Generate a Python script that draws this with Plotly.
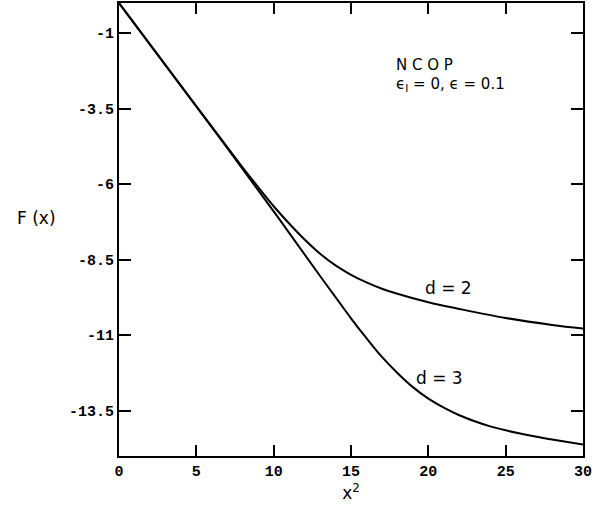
import plotly.graph_objects as go

# x^2 values and F(x) for the two dimensions
x_d2 = [0, 5, 8, 9, 10, 11, 12, 13, 14, 15, 16, 17, 18, 20, 22, 25, 28, 30]
f_d2 = [0, -3.42, -5.45, -6.1, -6.73, -7.3, -7.83, -8.3, -8.69, -9.0, -9.25, -9.46, -9.63, -9.91, -10.13, -10.43, -10.66, -10.78]

x_d3 = [0, 5, 10, 13, 14, 15, 16, 17, 18, 19, 20, 21, 22, 23, 24, 25, 26, 27, 28, 30]
f_d3 = [0, -3.42, -6.9, -9.04, -9.74, -10.44, -11.1, -11.72, -12.25, -12.72, -13.1, -13.4, -13.65, -13.85, -14.02, -14.15, -14.26, -14.36, -14.45, -14.62]

x_ticks = [0, 5, 10, 15, 20, 25, 30]
y_ticks = [-1, -3.5, -6, -8.5, -11, -13.5]
y_tick_text = ["-1", "-3.5", "-6", "-8.5", "-11", "-13.5"]

fig = go.Figure()
line_style = dict(color="black", width=2, shape="spline", smoothing=1.0)
fig.add_trace(go.Scatter(x=x_d2, y=f_d2, mode="lines", line=line_style, showlegend=False))
fig.add_trace(go.Scatter(x=x_d3, y=f_d3, mode="lines", line=line_style, showlegend=False))

tick_font = dict(family="Liberation Mono", size=15, color="black", weight="bold")
text_font = dict(family="DejaVu Sans", size=17, color="black")
small_font = dict(family="DejaVu Sans", size=15, color="black")

L, R, T, B = 119, 23, 1, 60
W, H = 606, 516

fig.update_layout(
    width=W, height=H,
    margin=dict(l=L, r=R, t=T, b=B),
    paper_bgcolor="white", plot_bgcolor="white",
    xaxis=dict(range=[0, 30], tickvals=x_ticks, ticks="inside", ticklen=11, tickwidth=2,
               tickcolor="black", showline=True, linecolor="black", linewidth=2,
               mirror="ticks", showgrid=False, zeroline=False, tickfont=tick_font,
               title=dict(text="x<sup>2</sup>", font=text_font, standoff=2)),
    yaxis=dict(range=[-15, 0], tickvals=y_ticks, ticktext=y_tick_text, ticks="inside",
               ticklen=12, tickwidth=2, tickcolor="black", showline=True, linecolor="black",
               linewidth=2, mirror="ticks", showgrid=False, zeroline=False, tickfont=tick_font),
    annotations=[
        dict(text="F (x)", x=(15 - L) / (W - L - R), y=1 - (217 - T) / (H - T - B),
             xref="paper", yref="paper", showarrow=False,
             font=text_font, xanchor="left", yanchor="middle"),
        dict(text="N C O P", x=17.8, y=-2.05, xref="x", yref="y", showarrow=False,
             font=small_font, xanchor="left", yanchor="middle"),
        dict(text="ϵ<sub>I</sub> = 0, ϵ = 0.1", x=17.8, y=-2.7, xref="x", yref="y",
             showarrow=False, font=small_font, xanchor="left", yanchor="middle"),
        dict(text="d = 2", x=21.3, y=-9.45, xref="x", yref="y", showarrow=False,
             font=text_font, xanchor="center", yanchor="middle"),
        dict(text="d = 3", x=20.75, y=-12.41, xref="x", yref="y", showarrow=False,
             font=text_font, xanchor="center", yanchor="middle"),
    ],
)

fig.write_html("out.html", config={"displayModeBar": False},
               post_script="document.body.style.margin='0';")
